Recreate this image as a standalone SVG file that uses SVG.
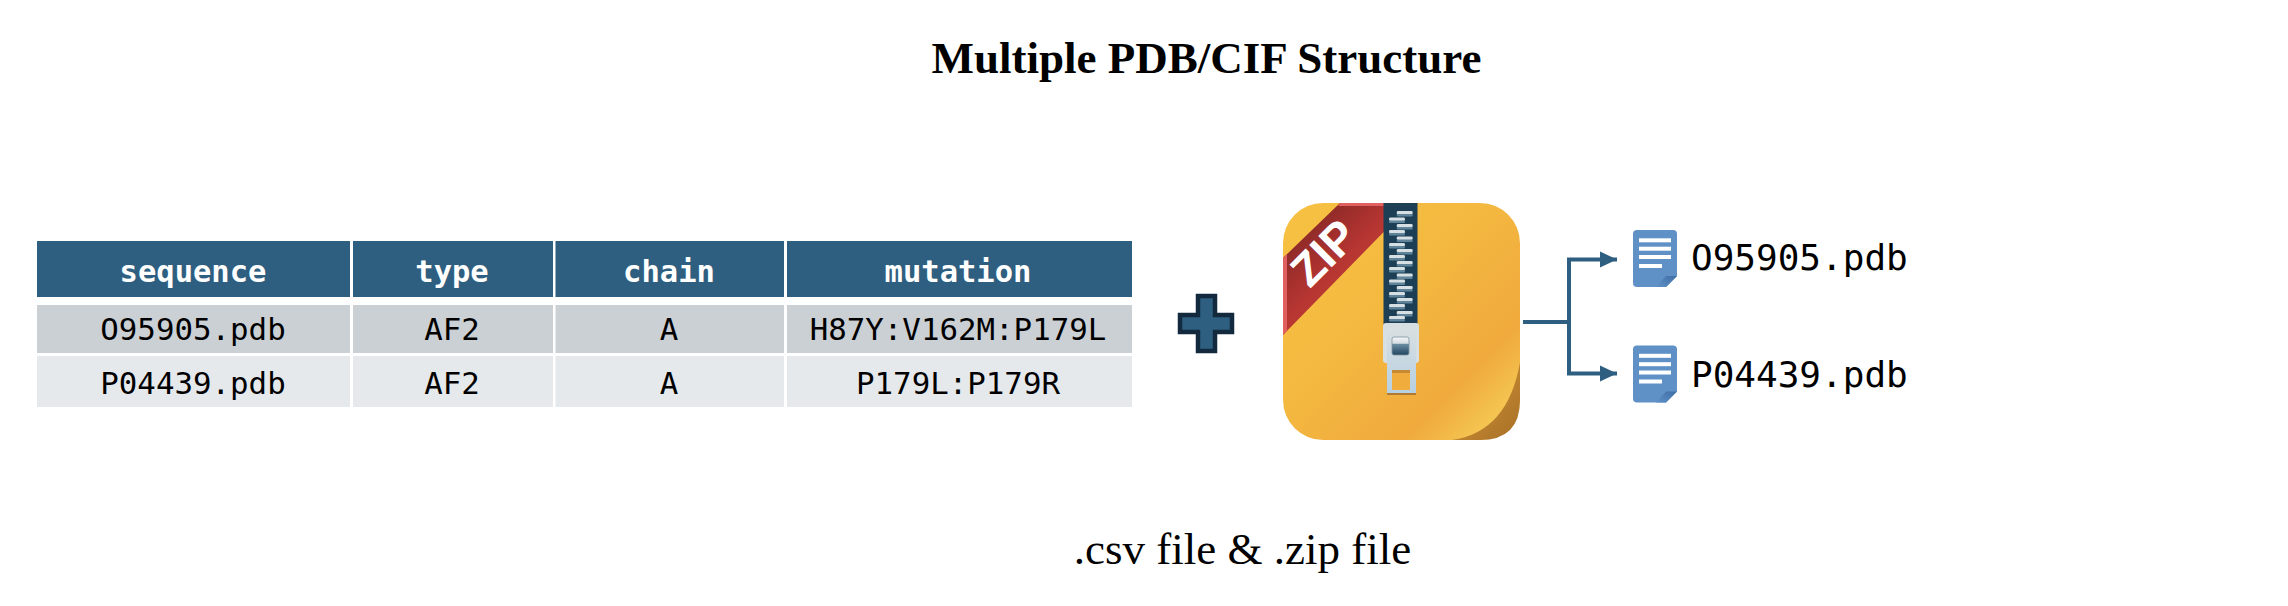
<svg xmlns="http://www.w3.org/2000/svg" xmlns:xlink="http://www.w3.org/1999/xlink" width="2288" height="606" viewBox="0 0 2288 606">
<style>
.h{fill:#2e5f80}.r1{fill:#cbd0d4}.r2{fill:#e6e9ec}
.th{font:bold 30.500px "DejaVu Sans Mono",monospace;fill:#fff;text-anchor:middle}
.td{font:30.800px "DejaVu Sans Mono",monospace;fill:#000;text-anchor:middle}
.fn{font:36px "DejaVu Sans Mono",monospace;fill:#000}
.conn{fill:none;stroke:#2e5f80;stroke-width:4}
.title{font:bold 45px "Liberation Serif",serif;fill:#000;text-anchor:middle}
.cap{font:45px "Liberation Serif",serif;fill:#000;text-anchor:middle}
</style>
<defs>
<marker id="arrow" markerUnits="userSpaceOnUse" markerWidth="18" markerHeight="18" refX="17" refY="9" orient="auto"><path d="M0 1L17 9L0 17Z" fill="#2e5f80"/></marker>
<linearGradient id="zipBg" gradientUnits="userSpaceOnUse" x1="1290" y1="210" x2="1510" y2="430"><stop offset="0" stop-color="#f6c143"/><stop offset=".42" stop-color="#f4b940"/><stop offset=".78" stop-color="#f0aa3d"/><stop offset="1" stop-color="#f6d05a"/></linearGradient>
<linearGradient id="curl" x1="0" y1="0" x2="1" y2="1"><stop offset="0" stop-color="#d79a36"/><stop offset="1" stop-color="#a86f28"/></linearGradient>
<linearGradient id="rib" gradientUnits="userSpaceOnUse" x1="1305" y1="225" x2="1345" y2="265"><stop offset="0" stop-color="#8a2a27"/><stop offset=".55" stop-color="#a5302d"/><stop offset="1" stop-color="#b93733"/></linearGradient>
<linearGradient id="btn" x1="0" y1="0" x2="0" y2="1"><stop offset="0" stop-color="#f4f6f7"/><stop offset=".35" stop-color="#d5dde2"/><stop offset=".4" stop-color="#6b8da3"/><stop offset="1" stop-color="#20465f"/></linearGradient>
<linearGradient id="plate" x1="0" y1="0" x2="0" y2="1"><stop offset="0" stop-color="#d9dfe2"/><stop offset="1" stop-color="#b5d0e2"/></linearGradient>
<linearGradient id="fold" x1="0" y1="1" x2="1" y2="0"><stop offset="0" stop-color="#5f90c6"/><stop offset="1" stop-color="#3e6ea6"/></linearGradient>
<g id="toothR"><rect x="1396.7" y="0" width="16" height="3.400" rx="1.400" fill="#d6dfe3"/><rect x="1396.7" y="3" width="16" height="2.400" rx="1" fill="#5f8398"/></g>
<g id="toothL"><rect x="1389" y="0" width="16" height="3.400" rx="1.400" fill="#d6dfe3"/><rect x="1389" y="3" width="16" height="2.400" rx="1" fill="#5f8398"/></g>
<g id="doc">
<path d="M1637 0H1673Q1677 0 1677 4V46L1666 57H1637Q1633 57 1633 53V4Q1633 0 1637 0Z" fill="#5f90c6"/>
<path d="M1677 46H1666L1656 57H1666Z" fill="url(#fold)"/>
<rect x="1639" y="8.3" width="32" height="4" fill="#fff"/><rect x="1639" y="16.7" width="32" height="4" fill="#fff"/><rect x="1639" y="25" width="32" height="4" fill="#fff"/><rect x="1639" y="34" width="23" height="4" fill="#fff"/>
</g>
</defs>
<rect width="2288" height="606" fill="#fff"/>
<text class="title" x="1206.500" y="73">Multiple PDB/CIF Structure</text>
<text class="cap" x="1242.500" y="564">.csv file &amp; .zip file</text>
<g id="table">
<rect class="h" x="37" y="241" width="313" height="56"/><rect class="h" x="353" y="241" width="200" height="56"/><rect class="h" x="555.500" y="241" width="228.500" height="56"/><rect class="h" x="787" y="241" width="345" height="56"/>
<rect class="r1" x="37" y="305" width="313" height="48"/><rect class="r1" x="353" y="305" width="200" height="48"/><rect class="r1" x="555.500" y="305" width="228.500" height="48"/><rect class="r1" x="787" y="305" width="345" height="48"/>
<rect class="r2" x="37" y="356" width="313" height="51"/><rect class="r2" x="353" y="356" width="200" height="51"/><rect class="r2" x="555.500" y="356" width="228.500" height="51"/><rect class="r2" x="787" y="356" width="345" height="51"/>
<text class="th" x="193" y="282">sequence</text>
<text class="th" x="452" y="282">type</text>
<text class="th" x="669" y="282">chain</text>
<text class="th" x="958" y="282">mutation</text>
<text class="td" x="193" y="340">O95905.pdb</text>
<text class="td" x="452" y="340">AF2</text>
<text class="td" x="669" y="340">A</text>
<text class="td" x="958" y="340">H87Y:V162M:P179L</text>
<text class="td" x="193" y="394">P04439.pdb</text>
<text class="td" x="452" y="394">AF2</text>
<text class="td" x="669" y="394">A</text>
<text class="td" x="958" y="394">P179L:P179R</text>
</g>
<g id="plus"><path d="M1198 296H1215V315H1232V332H1215V351H1198V332H1180V315H1198Z" fill="#2e5f80" stroke="#12293e" stroke-width="4.500"/></g>
<g id="zip">
<rect x="1283" y="203" width="237" height="237" rx="40" fill="url(#zipBg)"/>
<path d="M1520 362V400Q1520 440 1480 440H1452Q1508 432 1520 362Z" fill="url(#curl)"/>
<path d="M1340 203H1412L1283 335V258Z" fill="url(#rib)"/>
<path d="M1340 203H1412L1409 206H1338ZM1283 258L1287 254L1287 331L1283 335Z" fill="#e0605f"/>
<text transform="translate(1335 264) rotate(-45)" text-anchor="middle" style="font:bold 46px 'Liberation Sans',sans-serif;fill:#fff">ZIP</text>
<rect x="1383.500" y="203" width="34" height="124" fill="#1c3f55"/>
<use xlink:href="#toothR" href="#toothR" y="211"/><use xlink:href="#toothL" href="#toothL" y="217.500"/><use xlink:href="#toothR" href="#toothR" y="224"/><use xlink:href="#toothL" href="#toothL" y="230"/><use xlink:href="#toothR" href="#toothR" y="236.500"/><use xlink:href="#toothL" href="#toothL" y="243"/><use xlink:href="#toothR" href="#toothR" y="249"/><use xlink:href="#toothL" href="#toothL" y="255"/><use xlink:href="#toothR" href="#toothR" y="261"/><use xlink:href="#toothL" href="#toothL" y="267"/><use xlink:href="#toothR" href="#toothR" y="273.500"/><use xlink:href="#toothL" href="#toothL" y="279.500"/><use xlink:href="#toothR" href="#toothR" y="286"/><use xlink:href="#toothL" href="#toothL" y="292"/><use xlink:href="#toothR" href="#toothR" y="298"/><use xlink:href="#toothL" href="#toothL" y="304"/><use xlink:href="#toothR" href="#toothR" y="311"/><use xlink:href="#toothL" href="#toothL" y="316"/>
<rect x="1383" y="323" width="36" height="40" rx="3" fill="#d8dfe3"/>
<rect x="1387" y="329" width="29" height="65" rx="1.500" fill="url(#plate)"/>
<rect x="1387" y="393" width="29" height="2" fill="#b17a33"/>
<rect x="1392" y="337" width="17" height="18" rx="2" fill="url(#btn)" stroke="#7f929e" stroke-width=".8"/>
<rect x="1392" y="370" width="18" height="20" rx="1" fill="#f0ad3d"/>
<rect x="1392" y="370" width="18" height="3" fill="#c58a33"/>
</g>
<g id="connectors">
<path class="conn" d="M1523 322H1569"/>
<path class="conn" marker-end="url(#arrow)" d="M1569 322V259.500H1617"/>
<path class="conn" marker-end="url(#arrow)" d="M1569 322V373.500H1617"/>
</g>
<g id="file1"><use xlink:href="#doc" href="#doc" y="230"/><text class="fn" x="1691" y="270">O95905.pdb</text></g>
<g id="file2"><use xlink:href="#doc" href="#doc" y="345.500"/><text class="fn" x="1691" y="387">P04439.pdb</text></g>
</svg>
